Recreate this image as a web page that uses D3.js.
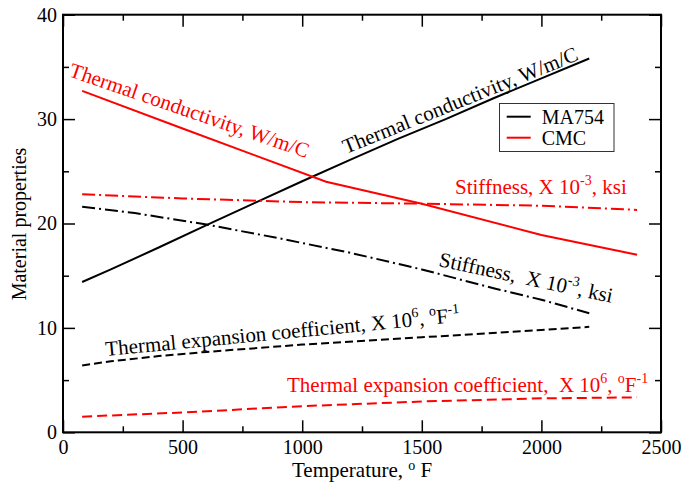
<!DOCTYPE html>
<html><head><meta charset="utf-8">
<script src="https://cdn.jsdelivr.net/npm/d3@7"></script>
<style>
body{margin:0;background:#fff;}
text{font-family:"Liberation Serif","Times New Roman",serif;white-space:pre;}
</style></head>
<body><svg id="c" width="698" height="483"></svg>
<script>
// ---- data ----
const ma754CondT = [80, 200, 400, 600, 800, 1000, 1200, 1400, 1600, 1800, 2000, 2200];
const ma754CondV = [14.4, 15.6, 17.7, 19.85, 21.95, 24.05, 26.1, 28.1, 30.0, 32.0, 33.9, 35.8];
const cmcCondT = [80, 500, 1100, 1500, 2000, 2400];
const cmcCondV = [32.7, 29.1, 24.0, 21.9, 18.9, 17.0];
const ma754StiffT = [80, 300, 600, 900, 1200, 1500, 1800, 2000, 2200];
const ma754StiffV = [21.6, 21.0, 19.9, 18.6, 17.2, 15.6, 13.8, 12.7, 11.4];
const cmcStiffT = [80, 500, 1000, 1500, 2000, 2400];
const cmcStiffV = [22.8, 22.4, 22.05, 21.9, 21.7, 21.3];
const ma754ExpT = [80, 200, 400, 600, 1000, 1500, 2000, 2200];
const ma754ExpV = [6.4, 6.8, 7.3, 7.7, 8.4, 9.1, 9.8, 10.1];
const cmcExpT = [80, 500, 1000, 1500, 2000, 2400];
const cmcExpV = [1.5, 1.9, 2.5, 2.95, 3.25, 3.35];
const xTicks = [0, 500, 1000, 1500, 2000, 2500];
const yTicks = [0, 10, 20, 30, 40];
const legendNames = ["MA754", "CMC"];
const colors = {MA754: "#000000", CMC: "#ff0000"};

const svg = d3.select("#c");
const x = d3.scaleLinear([0, 2500], [63, 661]);
const y = d3.scaleLinear([0, 40], [432.3, 14.7]);
const L = 63, R = 661, T = 14.7, B = 432.3;
const xMinor = d3.range(250, 2500, 500);
const yMinor = d3.range(5, 40, 10);

function styleAxis(g){ g.select(".domain").remove(); g.selectAll("line").attr("stroke","#000").attr("stroke-width",1.5);
  g.selectAll("text").attr("font-size",20).attr("fill","#000").style("font-family",'"Liberation Serif",serif'); }

svg.append("g").attr("transform",`translate(0,${B})`).call(d3.axisBottom(x).tickValues(xTicks).tickSize(-12).tickPadding(7.5).tickFormat(d3.format("d"))).call(styleAxis);
svg.append("g").attr("transform",`translate(0,${B})`).call(d3.axisBottom(x).tickValues(xMinor).tickSize(-6).tickFormat("")).call(styleAxis);
svg.append("g").attr("transform",`translate(0,${T})`).call(d3.axisTop(x).tickValues(xTicks).tickSize(-12).tickFormat("")).call(styleAxis);
svg.append("g").attr("transform",`translate(0,${T})`).call(d3.axisTop(x).tickValues(xMinor).tickSize(-6).tickFormat("")).call(styleAxis);
svg.append("g").attr("transform",`translate(${L},0)`).call(d3.axisLeft(y).tickValues(yTicks).tickSize(-12).tickPadding(6).tickFormat(d3.format("d"))).call(styleAxis);
svg.append("g").attr("transform",`translate(${L},0)`).call(d3.axisLeft(y).tickValues(yMinor).tickSize(-6).tickFormat("")).call(styleAxis);
svg.append("g").attr("transform",`translate(${R},0)`).call(d3.axisRight(y).tickValues(yTicks).tickSize(-12).tickFormat("")).call(styleAxis);
svg.append("g").attr("transform",`translate(${R},0)`).call(d3.axisRight(y).tickValues(yMinor).tickSize(-6).tickFormat("")).call(styleAxis);

svg.append("rect").attr("x",L).attr("y",T).attr("width",R-L).attr("height",B-T).attr("fill","none").attr("stroke","#000").attr("stroke-width",2);

const line = d3.line().x(d=>x(d[0])).y(d=>y(d[1]));
function series(ts, vs, color, dash){
  svg.append("path").datum(ts.map((t,i)=>[t,vs[i]])).attr("d",line).attr("fill","none")
    .attr("stroke",color).attr("stroke-width",2).attr("stroke-dasharray",dash);
}
series(ma754CondT, ma754CondV, colors.MA754, null);
series(cmcCondT, cmcCondV, colors.CMC, null);
series(ma754StiffT, ma754StiffV, colors.MA754, "13,4,2,4");
series(cmcStiffT, cmcStiffV, colors.CMC, "13,4,2,4");
series(ma754ExpT, ma754ExpV, colors.MA754, "8,4");
series(cmcExpT, cmcExpV, colors.CMC, "10,5");

// rich text with superscripts
function rich(t, parts, fs, up){
  let shift = 0;
  parts.forEach(p=>{
    const isSup = typeof p !== "string";
    const target = isSup ? -up : 0;
    t.append("tspan").attr("font-size", isSup ? Math.round(fs*0.66) : fs)
      .attr("dy", target - shift).text(isSup ? p.sup : p);
    shift = target;
  });
}
function label(px, py, rot, color, parts){
  const t = svg.append("text").attr("transform",`translate(${px},${py}) rotate(${rot})`).attr("font-size",21).attr("fill",color);
  rich(t, parts, 21, 9);
}
label(68, 76, 19, colors.CMC, ["Thermal conductivity, W/m/C"]);
label(346, 154, -22, colors.MA754, ["Thermal conductivity, W/m/C"]);
label(455, 194, 0, colors.CMC, ["Stiffness, X 10", {sup:"-3"}, ", ksi"]);
label(438, 266, 12, colors.MA754, ["Stiffness,  X 10", {sup:"-3"}, ", ksi"]);
label(106, 356, -5.5, colors.MA754, ["Thermal expansion coefficient, X 10", {sup:"6"}, ", ", {sup:"o"}, "F", {sup:"-1"}]);
label(287, 392, 0, colors.CMC, ["Thermal expansion coefficient,  X 10", {sup:"6"}, ", ", {sup:"o"}, "F", {sup:"-1"}]);

// axis titles
const xt = svg.append("text").attr("x",292).attr("y",477).attr("font-size",21).attr("fill","#000");
rich(xt, ["Temperature, ", {sup:"o"}, " F"], 21, 7);
svg.append("text").attr("transform","translate(26,224) rotate(-90)").attr("text-anchor","middle").attr("font-size",20).attr("fill","#000").text("Material properties");

// legend
const lg = svg.append("g");
lg.append("rect").attr("x",499.5).attr("y",103.5).attr("width",114.5).attr("height",48).attr("fill","#fff").attr("stroke","#333").attr("stroke-width",1);
legendNames.forEach((n,i)=>{
  const yy = 116.7 + i*21;
  lg.append("line").attr("x1",506.7).attr("x2",530.7).attr("y1",yy).attr("y2",yy).attr("stroke",colors[n]).attr("stroke-width",2);
  lg.append("text").attr("x",541.7).attr("y",yy+7).attr("font-size",20).attr("fill","#000").text(n);
});
</script></body></html>
